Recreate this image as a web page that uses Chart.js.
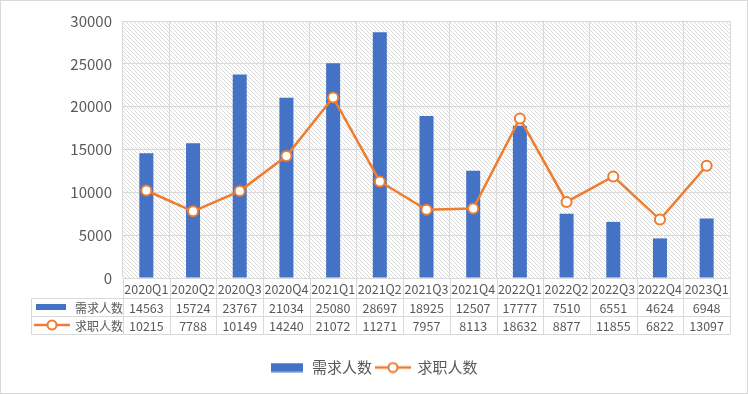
<!DOCTYPE html>
<html><head><meta charset="utf-8">
<script src="https://cdn.jsdelivr.net/npm/chart.js@4"></script>
<style>
html,body{margin:0;padding:0;background:#fff;}
#wrap{position:absolute;left:0;top:0;width:746px;height:392px;border:1px solid #d9d9d9;}
canvas{display:block;}
</style></head><body>
<div id="wrap"><canvas id="c" width="746" height="392"></canvas></div>
<script>
const categories = ['2020Q1','2020Q2','2020Q3','2020Q4','2021Q1','2021Q2','2021Q3','2021Q4','2022Q1','2022Q2','2022Q3','2022Q4','2023Q1'];
const demand = [14563,15724,23767,21034,25080,28697,18925,12507,17777,7510,6551,4624,6948];
const seekers = [10215,7788,10149,14240,21072,11271,7957,8113,18632,8877,11855,6822,13097];
const seriesNames = ['需求人数','求职人数'];
const yTicks = [0,5000,10000,15000,20000,25000,30000];

const BLUE = '#4472C4', ORANGE = '#ED7D31', TXT = '#595959', GRID = '#d9d9d9';
const FONT = '"Microsoft YaHei","Noto Sans CJK SC","DejaVu Sans",sans-serif';

function makePattern(ctx){
  const p = document.createElement('canvas'); p.width = 4; p.height = 4;
  const g = p.getContext('2d');
  g.fillStyle = '#fff'; g.fillRect(0,0,4,4);
  g.fillStyle = '#dadada';
  for (let i=0;i<4;i++){ g.fillRect(i,i,1,1); }
  return ctx.createPattern(p,'repeat');
}
function barSwatch(h){
  const c = document.createElement('canvas'); c.width = 32; c.height = 10;
  const g = c.getContext('2d'); g.fillStyle = BLUE; g.fillRect(0,(10-h)/2,32,h); return c;
}
function lineSwatch(){
  const c = document.createElement('canvas'); c.width = 36; c.height = 12;
  const g = c.getContext('2d');
  g.strokeStyle = ORANGE; g.lineWidth = 2.5;
  g.beginPath(); g.moveTo(0,6); g.lineTo(36,6); g.stroke();
  g.beginPath(); g.arc(18,6,4.5,0,Math.PI*2); g.fillStyle='#fff'; g.fill(); g.lineWidth=2; g.stroke();
  return c;
}
const bsTable = barSwatch(6), bsLegend = barSwatch(9), ls = lineSwatch();

const TABLE_LEFT = 30, ROW_LABEL = 20, ROW_H = 18;

const tablePlugin = {
  id: 'tablePlugin',
  beforeDraw(chart){
    const {ctx, chartArea:a} = chart;
    ctx.save();
    ctx.fillStyle = makePattern(ctx);
    ctx.fillRect(a.left, a.top, a.right-a.left, a.bottom-a.top);
    ctx.restore();
  },
  afterDraw(chart){
    const {ctx, chartArea:a} = chart;
    const xs = chart.scales.x;
    const n = categories.length;
    const w = (a.right - a.left)/n;
    const y0 = a.bottom, y1 = y0 + ROW_LABEL, y2 = y1 + ROW_H, y3 = y2 + ROW_H;
    ctx.save();
    ctx.strokeStyle = GRID; ctx.lineWidth = 1;
    ctx.beginPath();
    for (let i=0;i<=n;i++){
      const x = Math.round(a.left + i*w) + 0.5;
      ctx.moveTo(x, y0); ctx.lineTo(x, y3);
    }
    [y1,y2,y3].forEach(y=>{ const yy=Math.round(y)+0.5; ctx.moveTo(TABLE_LEFT, yy); ctx.lineTo(a.right, yy); });
    ctx.moveTo(TABLE_LEFT+0.5, y1); ctx.lineTo(TABLE_LEFT+0.5, y3);
    ctx.stroke();

    ctx.fillStyle = TXT;
    ctx.font = '12.5px ' + FONT;
    ctx.textAlign = 'center'; ctx.textBaseline = 'middle';
    for (let i=0;i<n;i++){
      const cx = xs.getPixelForValue(i);
      ctx.fillText(categories[i], cx, (y0+y1)/2+1);
      ctx.fillText(String(demand[i]), cx, (y1+y2)/2+1);
      ctx.fillText(String(seekers[i]), cx, (y2+y3)/2+1);
    }
    ctx.drawImage(bsTable, 35, (y1+y2)/2-5, 30, 10);
    ctx.drawImage(ls, 33, (y2+y3)/2-6, 36, 12);
    ctx.textAlign = 'left';
    ctx.font = '12px ' + FONT;
    ctx.fillText(seriesNames[0], 74, (y1+y2)/2+1);
    ctx.fillText(seriesNames[1], 74, (y2+y3)/2+1);
    ctx.restore();
  }
};

new Chart(document.getElementById('c'), {
  data: {
    labels: categories,
    datasets: [
      { type:'line', label: seriesNames[1], data: seekers, borderColor: ORANGE, borderWidth: 2.5,
        pointRadius: 5, pointHoverRadius: 5, pointBackgroundColor: '#fff', pointBorderColor: ORANGE, pointBorderWidth: 2,
        tension: 0, pointStyle: 'circle', order: 0 },
      { type:'bar', label: seriesNames[0], data: demand, backgroundColor: BLUE,
        barPercentage: 0.3, categoryPercentage: 1.0, order: 1 }
    ]
  },
  options: {
    responsive: false, animation: false, devicePixelRatio: 1,
    layout: { padding: { left: 17, right: 17, top: 18, bottom: 8 } },
    scales: {
      x: {
        offset: true,
        grid: { offset: true, color: GRID, drawTicks: false },
        border: { display: false },
        ticks: { display: false },
        afterFit(s){ s.height = 78; }
      },
      y: {
        min: 0, max: 30000,
        afterBuildTicks(s){ s.ticks = yTicks.map(v=>({value:v})); },
        grid: { color: GRID, drawTicks: false },
        border: { display: false },
        ticks: { color: TXT, font: { size: 15, family: FONT }, padding: 11, callback: v => String(v) },
        afterFit(s){ s.width = 105; }
      }
    },
    plugins: {
      tooltip: { enabled: false },
      legend: {
        position: 'bottom',
        labels: {
          usePointStyle: true, pointStyleWidth: 34, color: TXT, font: { size: 15, family: FONT }, padding: 4,
          generateLabels(chart){
            return [
              { text: seriesNames[0], pointStyle: bsLegend, fontColor: TXT, datasetIndex: 1, lineWidth:0, strokeStyle:'transparent', fillStyle:BLUE },
              { text: seriesNames[1], pointStyle: ls, fontColor: TXT, datasetIndex: 0, lineWidth:0, strokeStyle:'transparent', fillStyle:ORANGE }
            ];
          }
        }
      }
    }
  },
  plugins: [tablePlugin]
});
</script>
</body></html>
